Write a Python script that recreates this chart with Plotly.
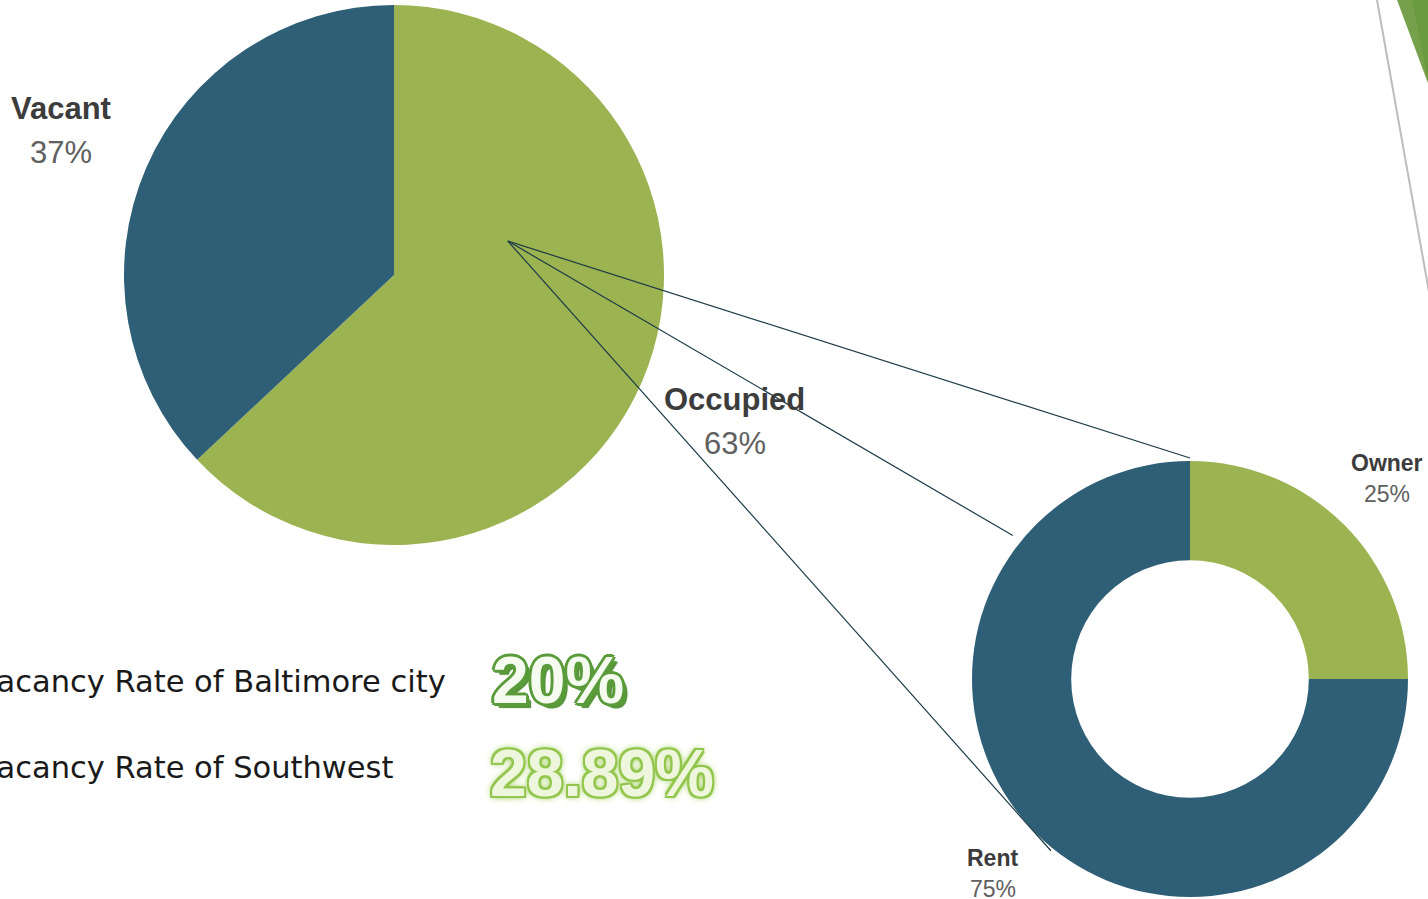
import math
import plotly.graph_objects as go

# ---- data ----
occupancy_labels = ["Occupied", "Vacant"]
occupancy_values = [63, 37]
tenure_labels = ["Owner", "Rent"]
tenure_values = [25, 75]
rate_labels = ["Vacancy Rate of Baltimore city", "Vacancy Rate of Southwest"]
rate_values = ["20%", "28.89%"]

# ---- styling / geometry (pixels) ----
W, H = 1428, 899
GREEN = "#9bb350"
BLUE = "#2f5f77"
PIE_C, PIE_R = (394, 275), 270
DON_C, DON_R = (1190, 679), 218


def px(x):
    return x / W


def py(y):
    return 1 - y / H


def polar(center, r, deg):
    """Point at clockwise angle `deg` from 12 o'clock, screen pixels."""
    a = math.radians(deg)
    return center[0] + r * math.sin(a), center[1] - r * math.cos(a)


def mid_angles(values):
    total = sum(values)
    out, acc = [], 0
    for v in values:
        out.append((acc + v / 2) / total * 360)
        acc += v
    return out


fig = go.Figure()

fig.add_trace(go.Pie(
    labels=occupancy_labels, values=occupancy_values,
    marker=dict(colors=[GREEN, BLUE], line=dict(width=0)),
    sort=False, direction="clockwise", rotation=0,
    textinfo="none", hoverinfo="label+percent", showlegend=False,
    domain=dict(x=[px(PIE_C[0] - PIE_R), px(PIE_C[0] + PIE_R)],
                y=[py(PIE_C[1] + PIE_R), py(PIE_C[1] - PIE_R)]),
))

fig.add_trace(go.Pie(
    labels=tenure_labels, values=tenure_values, hole=0.545,
    marker=dict(colors=[GREEN, BLUE], line=dict(width=0)),
    sort=False, direction="clockwise", rotation=0,
    textinfo="none", hoverinfo="label+percent", showlegend=False,
    domain=dict(x=[px(DON_C[0] - DON_R), px(DON_C[0] + DON_R)],
                y=[py(DON_C[1] + DON_R), py(DON_C[1] - DON_R)]),
))

annotations = []
shapes = []


def slice_labels(center, r, k, labels, values, size, gap, dx=0, dy=0):
    total = sum(values)
    for lab, val, ang in zip(labels, values, mid_angles(values)):
        x, y = polar(center, r * k, ang)
        x, y = x + dx, y + dy
        annotations.append(dict(
            x=px(x), y=py(y - gap / 2), xref="paper", yref="paper",
            text=f"<b>{lab}</b>", showarrow=False, xanchor="center", yanchor="middle",
            font=dict(family="Liberation Sans, Arial", size=size, color="#3c3c3c")))
        annotations.append(dict(
            x=px(x), y=py(y + gap / 2), xref="paper", yref="paper",
            text=f"{round(val / total * 100)}%", showarrow=False,
            xanchor="center", yanchor="middle",
            font=dict(family="Liberation Sans, Arial", size=size, color="#606060")))


slice_labels(PIE_C, PIE_R, 1.36, occupancy_labels, occupancy_values, 31, 44, dx=4, dy=1)
slice_labels(DON_C, DON_R, 1.28, tenure_labels, tenure_values, 23, 31, dy=-3)

# connector lines from the occupied slice to the tenure donut
start = polar(PIE_C, PIE_R * 0.44, 73.4)
ends = [polar(DON_C, DON_R + 3, 0), polar(DON_C, DON_R + 10, 309), polar(DON_C, DON_R + 3, 219)]
for ex, ey in ends:
    shapes.append(dict(type="line", xref="paper", yref="paper",
                       x0=px(start[0]), y0=py(start[1]), x1=px(ex), y1=py(ey),
                       line=dict(color="#1d3a48", width=1.2), layer="above"))

# rate captions
text_font = dict(family="DejaVu Sans", size=30.5, color="#1a1a1a")
for lab, yc in zip(rate_labels, [681, 767]):
    annotations.append(dict(x=px(-24), y=py(yc), xref="paper", yref="paper",
                            text=lab, showarrow=False, xanchor="left", yanchor="middle",
                            font=text_font))

outline = "#5a9b3a"
shadow_20 = ", ".join([f"{dx}px {dy}px 0 {outline}" for dx, dy in
                       [(-2, -2), (2, -2), (-2, 2), (2, 2), (0, -3), (0, 3), (-3, 0), (3, 0)]]
                      + [f"4px 4px 1px {outline}", "5px 5px 1px #4c8a30"])
annotations.append(dict(x=px(490), y=py(680), xref="paper", yref="paper",
                        text=f"<b>{rate_values[0]}</b>", showarrow=False,
                        xanchor="left", yanchor="middle",
                        font=dict(family="Liberation Sans, Arial",
                                  size=66, color="#f6fbf0", shadow=shadow_20)))

glow = "#93c64c"
shadow_28 = ", ".join([f"{dx}px {dy}px 0 {glow}" for dx, dy in
                       [(-2, -2), (2, -2), (-2, 2), (2, 2), (0, -2), (0, 2), (-2, 0), (2, 0)]]
                      + [f"0 0 6px {glow}", "0 0 9px #b5dc7a"])
annotations.append(dict(x=px(488), y=py(773), xref="paper", yref="paper",
                        text=f"<b>{rate_values[1]}</b>", showarrow=False,
                        xanchor="left", yanchor="middle",
                        font=dict(family="Liberation Sans, Arial",
                                  size=66, color="#eef7de", shadow=shadow_28)))

# corner decoration
shapes.append(dict(type="line", xref="paper", yref="paper",
                   x0=px(1377), y0=py(0), x1=px(1429), y1=py(292),
                   line=dict(color="#bdbdbd", width=2), layer="above"))
shapes.append(dict(type="path", xref="paper", yref="paper",
                   path=f"M {px(1397)} {py(0)} L {px(1429)} {py(0)} L {px(1429)} {py(86)} Z",
                   fillcolor="#77a04c", line=dict(width=0), layer="above"))
shapes.append(dict(type="path", xref="paper", yref="paper",
                   path=f"M {px(1412)} {py(0)} L {px(1429)} {py(0)} L {px(1429)} {py(86)} Z",
                   fillcolor="#6a9a3f", line=dict(width=0), layer="above"))

fig.update_layout(
    width=W, height=H, margin=dict(l=0, r=0, t=0, b=0),
    paper_bgcolor="white", plot_bgcolor="white",
    showlegend=False, annotations=annotations, shapes=shapes,
)

fig.write_html("out.html")
